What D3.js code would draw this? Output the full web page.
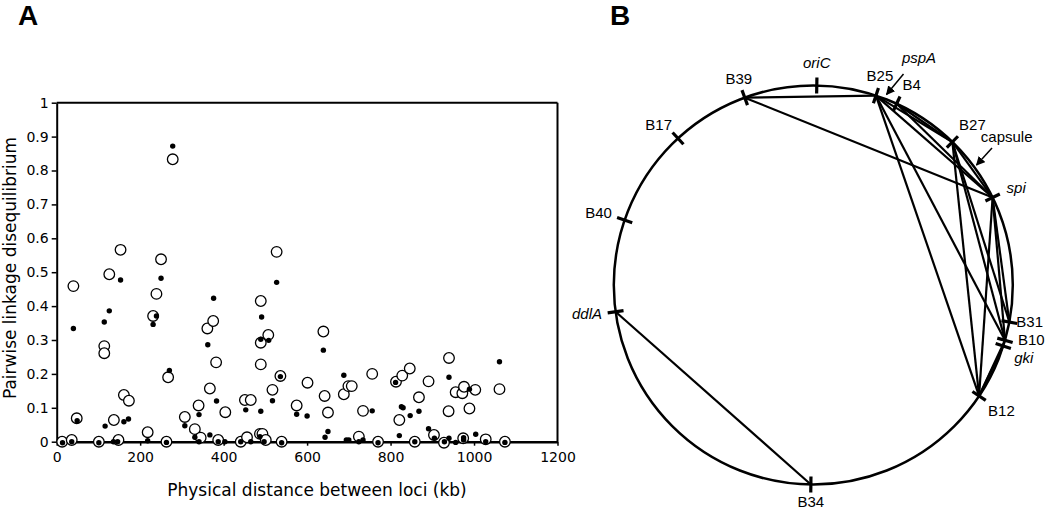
<!DOCTYPE html>
<html><head><meta charset="utf-8">
<script src="https://cdn.jsdelivr.net/npm/d3@7"></script>
<style>body{margin:0;background:#fff;} svg{display:block;}</style>
</head><body><svg id="c" width="1050" height="512"></svg>
<script>
// ---------- Panel A data ----------
const openDist = [13,36,40,48,101,114,114,126,137,148,153,161,173,218,231,239,250,263,267,278,307,331,340,345,361,367,375,382,387,404,441,451,456,465,487,489,489,489,493,501,507,517,527,536,539,575,601,639,642,650,688,699,707,724,734,756,770,813,821,828,846,858,868,891,904,928,939,940,956,972,974,976,989,1003,1028,1061,1074];
const openLD = [0,0.005,0.459,0.069,0,0.282,0.261,0.494,0.064,0.005,0.566,0.138,0.121,0.028,0.371,0.436,0.538,0,0.19,0.833,0.073,0.037,0.107,0.012,0.334,0.157,0.356,0.234,0.005,0.087,0,0.123,0.013,0.123,0.023,0.415,0.292,0.228,0.023,0.005,0.315,0.153,0.56,0.194,0,0.107,0.174,0.325,0.135,0.086,0.14,0.164,0.164,0.015,0.091,0.2,0,0.177,0.064,0.195,0.216,0,0.131,0.178,0.02,-0.003,0.09,0.247,0.146,0.143,0.01,0.162,0.098,0.153,0.007,0.155,0];
const dotDist = [14,36,40,49,101,114,116,126,136,146,153,161,172,218,231,239,250,263,270,278,307,331,341,341,362,367,376,383,387,403,441,453,465,487,489,489,491,497,508,517,527,536,539,575,600,639,643,650,688,694,700,724,734,756,770,812,821,826,830,847,858,868,891,905,929,940,940,956,975,975,989,1004,1028,1061,1074];
const dotLD = [-0.003,0,0.334,0.062,-0.003,0.353,0.046,0.386,0,0,0.477,0.059,0.067,0.003,0.346,0.371,0.482,-0.002,0.21,0.872,0.047,0.013,0.08,0,0.286,0.02,0.423,0.12,0,0,0,0.094,0,0.015,0.302,0.09,0.368,0,0.299,0.121,0.47,0.192,-0.003,0.081,0.076,0.27,0.013,0.03,0.196,0.005,0.005,0,0.005,0.091,-0.003,0.175,0.018,0.103,0.1,0.077,0,0.09,0.038,0.01,0,0.19,0.01,-0.002,0.005,0.012,0.155,0.022,0,0.236,-0.002];
const xTickValues = [0,200,400,600,800,1000,1200];
const yTickValues = [0,0.1,0.2,0.3,0.4,0.5,0.6,0.7,0.8,0.9,1];
const xTitle = "Physical distance between loci (kb)";
const yTitle = "Pairwise linkage disequilibrium";

// ---------- Panel B data ----------
const lociNames = ["oriC","B25","B4","B27","spi","B31","B10","gki","B12","B34","ddlA","B40","B17","B39"];
const lociAngles = [1,18.3,24.7,44.2,64,100.7,106.1,107.8,123.8,180.7,262.3,289,317.3,339.9];
const italicLoci = ["oriC","spi","gki","ddlA"];
const linkFrom = ["B39","B39","ddlA","B25","B25","B25","B25","B4","B4","B27","B27","B27","B27","spi","spi","spi","B10","gki"];
const linkTo   = ["B25","spi","B34","B27","spi","B12","B10","B27","spi","spi","B12","B10","B31","B12","B10","B31","B12","B12"];

const svg = d3.select("#c");

// ================= Panel A =================
const x = d3.scaleLinear().domain([0,1200]).range([56.7,557.5]);
const y = d3.scaleLinear().domain([0,1]).range([441.7,102.7]);
const gA = svg.append("g");

gA.append("text").attr("x",18).attr("y",25).text("A")
  .attr("font-family","Liberation Sans, Arial, sans-serif").attr("font-weight","bold").attr("font-size",28);

// frame
gA.append("line").attr("x1",x(0)).attr("x2",x(1200)).attr("y1",y(1)).attr("y2",y(1)).attr("stroke","#000").attr("stroke-width",2);
gA.append("line").attr("x1",x(1200)).attr("x2",x(1200)).attr("y1",y(1)).attr("y2",y(0)).attr("stroke","#000").attr("stroke-width",2);

const yAxis = gA.append("g").attr("transform",`translate(${x(0)},0)`)
  .call(d3.axisLeft(y).tickValues(yTickValues).tickFormat(d3.format("~g")).tickSize(5).tickSizeOuter(0));
const xAxis = gA.append("g").attr("transform",`translate(0,${y(0)})`)
  .call(d3.axisBottom(x).tickValues(xTickValues).tickFormat(d3.format("d")).tickSize(4).tickSizeOuter(0));
[xAxis,yAxis].forEach(a=>{
  a.selectAll("text").attr("font-family","DejaVu Sans, sans-serif").attr("font-size",14).attr("fill","#000");
  a.selectAll("line").attr("stroke","#000").attr("stroke-width",1.5);
});
yAxis.select(".domain").attr("stroke","#000").attr("stroke-width",2);
xAxis.select(".domain").attr("stroke","#000").attr("stroke-width",2.6);
yAxis.selectAll("text").attr("x",-8);
xAxis.selectAll("text").attr("y",10);

gA.append("text").attr("x",317).attr("y",496).attr("text-anchor","middle")
  .attr("font-family","DejaVu Sans, sans-serif").attr("font-size",17).text(xTitle);
gA.append("text").attr("transform","translate(16,268) rotate(-90)").attr("text-anchor","middle")
  .attr("font-family","DejaVu Sans, sans-serif").attr("font-size",17).text(yTitle);

const openData = openDist.map((d,i)=>({d, v:openLD[i]}));
const dotData = dotDist.map((d,i)=>({d, v:dotLD[i]}));
gA.append("g").selectAll("circle").data(openData).join("circle")
  .attr("cx",p=>x(p.d)).attr("cy",p=>y(p.v)).attr("r",5.3)
  .attr("fill","#fff").attr("stroke","#000").attr("stroke-width",1.3);
gA.append("g").selectAll("circle").data(dotData).join("circle")
  .attr("cx",p=>x(p.d)).attr("cy",p=>y(p.v)).attr("r",2.7).attr("fill","#000");

// ================= Panel B =================
const cx = 813.3, cy = 285, R = 199.5;
const ang = d3.scaleLinear().domain([0,360]).range([0,2*Math.PI]);
const pos = (a, r) => [cx + r*Math.sin(ang(a)), cy - r*Math.cos(ang(a))];
const angleOf = {}; lociNames.forEach((n,i)=>angleOf[n]=lociAngles[i]);
const gB = svg.append("g");

gB.append("text").attr("x",610).attr("y",25).text("B")
  .attr("font-family","Liberation Sans, Arial, sans-serif").attr("font-weight","bold").attr("font-size",28);

gB.append("circle").attr("cx",cx).attr("cy",cy).attr("r",R).attr("fill","none").attr("stroke","#000").attr("stroke-width",2.5);

const links = linkFrom.map((f,i)=>({a:angleOf[f], b:angleOf[linkTo[i]]}));
gB.append("g").selectAll("line").data(links).join("line")
  .attr("x1",l=>pos(l.a,R)[0]).attr("y1",l=>pos(l.a,R)[1])
  .attr("x2",l=>pos(l.b,R)[0]).attr("y2",l=>pos(l.b,R)[1])
  .attr("stroke","#000").attr("stroke-width",2.2);

gB.append("g").selectAll("line").data(lociAngles).join("line")
  .attr("x1",a=>pos(a,R-8)[0]).attr("y1",a=>pos(a,R-8)[1])
  .attr("x2",a=>pos(a,R+8)[0]).attr("y2",a=>pos(a,R+8)[1])
  .attr("stroke","#000").attr("stroke-width",3.2);

// label layout (offsets from tick point)
const labelLayout = {
  oriC:{dx:0,dy:-17.5,anchor:"middle"}, B25:{dx:4,dy:-15,anchor:"middle"}, B4:{dx:15,dy:-14,anchor:"middle"},
  B27:{dx:20,dy:-12,anchor:"middle"}, spi:{dx:14,dy:-4.5,anchor:"start"}, B31:{dx:7,dy:4.7,anchor:"start"},
  B10:{dx:13,dy:5,anchor:"start"}, gki:{dx:11,dy:17.5,anchor:"start"}, B12:{dx:9,dy:20,anchor:"start"},
  B34:{dx:0,dy:23,anchor:"middle"}, ddlA:{dx:-13.6,dy:7.3,anchor:"end"}, B40:{dx:-12.7,dy:-2,anchor:"end"},
  B17:{dx:-6,dy:-8.3,anchor:"end"}, B39:{dx:-6,dy:-13.6,anchor:"middle"}
};
gB.append("g").selectAll("text").data(lociNames).join("text")
  .attr("x",n=>pos(angleOf[n],R)[0]+labelLayout[n].dx)
  .attr("y",n=>pos(angleOf[n],R)[1]+labelLayout[n].dy)
  .attr("text-anchor",n=>labelLayout[n].anchor)
  .attr("font-style",n=>italicLoci.includes(n)?"italic":"normal")
  .attr("font-family","Liberation Sans, Arial, sans-serif").attr("font-size",15)
  .text(n=>n);

// extra labels with arrows
const defs = svg.append("defs");
defs.append("marker").attr("id","ah").attr("viewBox","0 0 10 10").attr("refX",9).attr("refY",5)
  .attr("markerWidth",9).attr("markerHeight",9).attr("markerUnits","userSpaceOnUse").attr("orient","auto")
  .append("path").attr("d","M0,0 L10,5 L0,10 Z").attr("fill","#000");
gB.append("text").attr("x",919).attr("y",63).attr("text-anchor","middle").attr("font-style","italic")
  .attr("font-family","Liberation Sans, Arial, sans-serif").attr("font-size",15).text("pspA");
gB.append("line").attr("x1",903.5).attr("y1",74).attr("x2",886.5).attr("y2",94.5)
  .attr("stroke","#000").attr("stroke-width",1.5).attr("marker-end","url(#ah)");
gB.append("text").attr("x",1006.7).attr("y",141.5).attr("text-anchor","middle")
  .attr("font-family","Liberation Sans, Arial, sans-serif").attr("font-size",15).text("capsule");
gB.append("line").attr("x1",992).attr("y1",148).attr("x2",976.5).attr("y2",165)
  .attr("stroke","#000").attr("stroke-width",1.5).attr("marker-end","url(#ah)");
</script></body></html>
